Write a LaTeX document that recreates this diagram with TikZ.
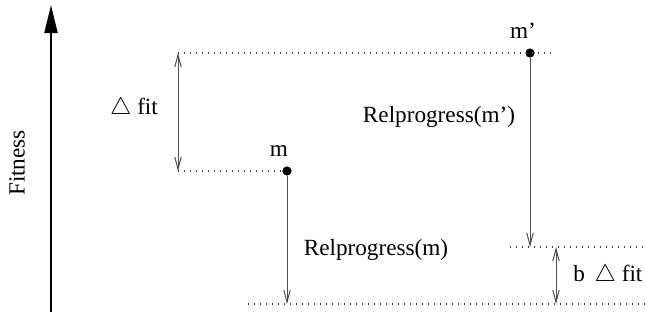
\documentclass[tikz,border=0pt]{standalone}
\usepackage{fontspec}
\setmainfont{Liberation Serif}
\usetikzlibrary{arrows.meta,positioning,calc}
\tikzset{
  >={Straight Barb[length=6pt,width=3.2pt]},
  dot/.style={circle,fill=black,inner sep=0pt,minimum size=4.6pt},
  lab/.style={font=\fontsize{11.6}{14}\selectfont,inner sep=0pt},
  arr/.style={->,line width=0.5pt,draw=black!70},
  darr/.style={<->,line width=0.5pt,draw=black!70},
  lvl/.style={line width=0.6pt,draw=black!75,dash pattern=on 0.5pt off 2.5pt},
}
\begin{document}
\begin{tikzpicture}[x=0.5pt,y=-0.5pt]
\useasboundingbox (0,0) rectangle (646,322);
% fitness axis
\coordinate (ax0) at (51,312);
\coordinate (ax1) at (51,5);
\draw[line width=1pt,-{Triangle[length=14pt,width=6.5pt]}] (ax0) -- (ax1);
\node[lab,rotate=90] (fitness) at (17,163) {Fitness};
% individuals
\node[dot] (mp) at (530,53) {};
\node[dot] (m) at (287,171) {};
\node[lab,anchor=south] (mplab) at (523,39) {m'};
\node[lab,anchor=south] (mlab) at (279,157) {m};
% levels
\coordinate (top0) at (178,53);
\coordinate (top1) at (555,53);
\coordinate (mid0) at (178,171);
\coordinate (low0) at (510,247);
\coordinate (low1) at (646,247);
\coordinate (bot0) at (248,304);
\coordinate (bot1) at (646,304);
\draw[lvl] (top0) -- (top1);
\draw[lvl] (mid0) -- (m);
\draw[lvl] (low0) -- (low1);
\draw[lvl] (bot0) -- (bot1);
% progress arrows
\coordinate (mend) at (287,304);
\coordinate (mpend) at (530,247);
\draw[arr] (m) -- (mend);
\draw[arr] (mp) -- (mpend);
\node[lab] (relm) at (376,250) {Relprogress(m)};
\node[lab] (relmp) at (439,117) {Relprogress(m')};
% fitness gaps
\draw[darr] (top0) -- (mid0);
\node[lab] (dfit) at (134,108) {$\triangle$ fit};
\coordinate (b0) at (556,247);
\coordinate (b1) at (556,304);
\draw[darr] (b0) -- (b1);
\node[lab,anchor=west] (bfit) at (573,275) {b \,$\triangle$ fit};
\end{tikzpicture}
\end{document}
